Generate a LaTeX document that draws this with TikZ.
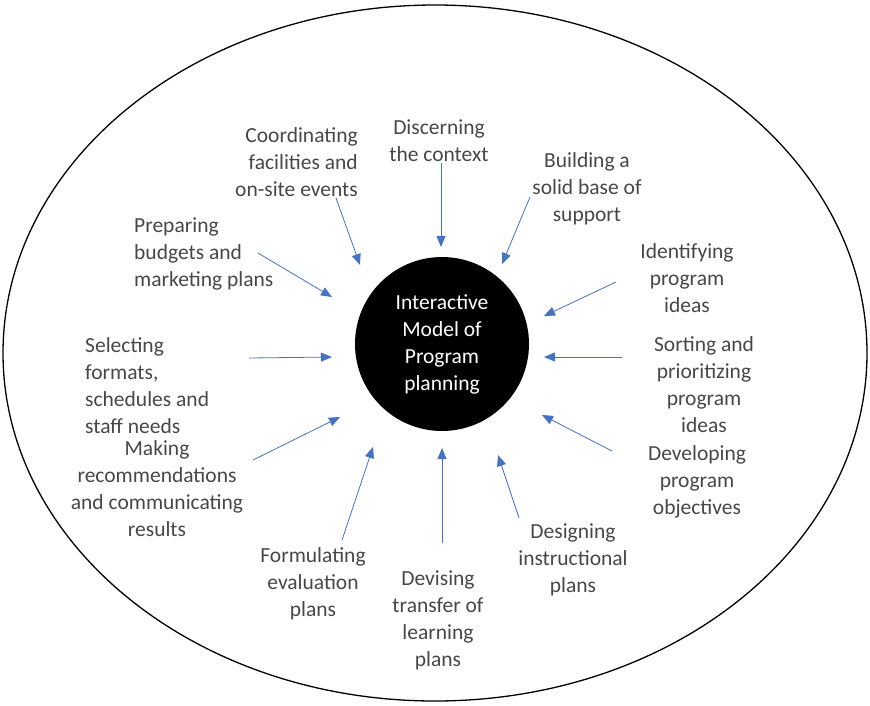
\documentclass[tikz,border=0pt]{standalone}
\usepackage{fontspec}
\setmainfont{Carlito}
\usetikzlibrary{arrows.meta}
\definecolor{linkblue}{RGB}{68,114,196}

\begin{document}
\begin{tikzpicture}[x=1pt, y=-1pt, lbl/.style={text=black!72, font=\fontsize{21.5}{27}\selectfont, align=center, inner sep=0pt}, hub/.style={circle, fill=black, text=white, minimum size=174pt, inner sep=0pt, align=center, font=\fontsize{21.5}{27}\selectfont}, link/.style={-{Triangle[length=11pt,width=9pt]}, linkblue, line width=0.8pt} ]
\useasboundingbox (0,0) rectangle (870,705);
\draw [line width=1.3pt] (435,353) ellipse [x radius=432pt, y radius=348pt];
\node (hub) [hub] at (442,344) {Interactive\\Model of\\Program\\planning};
\node (l1) [lbl] at (439,141) {Discerning\\the context};
\node (l2) [lbl, align=right, anchor=east] at (358,162) {Coordinating\\facilities and\\on-site events};
\node (l3) [lbl] at (587,189) {Building a\\solid base of\\support};
\node (l4) [lbl] at (687,278) {Identifying\\program\\ideas};
\node (l5) [lbl] at (704,385) {Sorting and\\prioritizing\\program\\ideas};
\node (l6) [lbl] at (697,482) {Developing\\program\\objectives};
\node (l7) [lbl] at (573,560) {Designing\\instructional\\plans};
\node (l8) [lbl] at (438,620) {Devising\\transfer of\\learning\\plans};
\node (l9) [lbl] at (313,584) {Formulating\\evaluation\\plans};
\node (l10) [lbl] at (157,489) {Making\\recommendations\\and communicating\\results};
\node (l11) [lbl, align=left, anchor=west] at (85,386) {Selecting\\formats,\\schedules and\\staff needs};
\node (l12) [lbl, align=left, anchor=west] at (134,254) {Preparing\\budgets and\\marketing plans};
  \begin{scope}
    \coordinate (t1) at (441,163);  \coordinate (h1) at (441,247);
    \coordinate (t2) at (336,198);  \coordinate (h2) at (360,265);
    \coordinate (t3) at (530,197);  \coordinate (h3) at (502,264);
    \coordinate (t4) at (616,282);  \coordinate (h4) at (544,316);
    \coordinate (t5) at (622,357);  \coordinate (h5) at (544,357);
    \coordinate (t6) at (612,451);  \coordinate (h6) at (542,415);
    \coordinate (t7) at (519,518);  \coordinate (h7) at (498,455);
    \coordinate (t8) at (442,543);  \coordinate (h8) at (442,448);
    \coordinate (t9) at (342,540);  \coordinate (h9) at (373,447);
    \coordinate (t10) at (253,460); \coordinate (h10) at (340,417);
    \coordinate (t11) at (249,358); \coordinate (h11) at (332,357);
    \coordinate (t12) at (258,253); \coordinate (h12) at (332,297);
    \foreach \i in {1,...,12}
      \draw [link] (t\i) -- (h\i);
  \end{scope}
\end{tikzpicture}
\end{document}
